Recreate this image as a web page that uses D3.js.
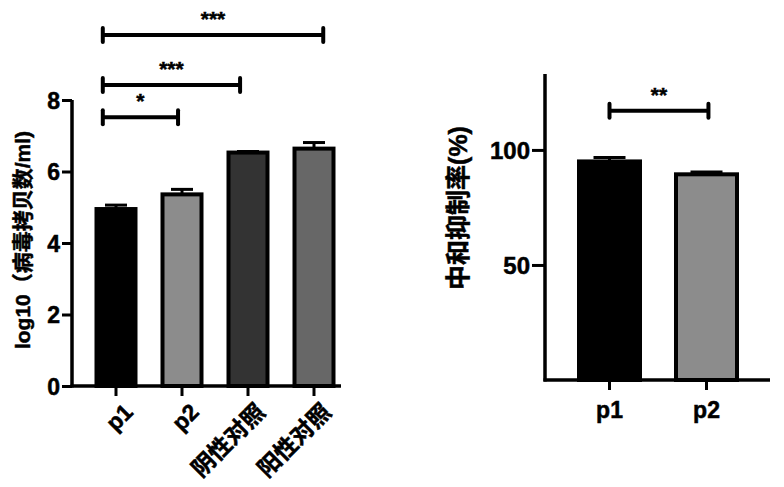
<!DOCTYPE html>
<html>
<head>
<meta charset="utf-8">
<script src="https://cdn.jsdelivr.net/npm/d3@7"></script>
<style>
  body { margin: 0; background: #fff; }
  svg text { font-family: "Liberation Sans", Arial, "Noto Sans CJK SC", sans-serif; font-weight: bold; fill: #000; stroke: #000; stroke-width: 0.5px; }
</style>
</head>
<body>
<svg id="chart"></svg>
<script>
// left panel
const leftCats = ["p1", "p2", "阴性对照", "阳性对照"];
const leftVals = [4.95, 5.36, 6.53, 6.64];
const leftErr = [0.11, 0.14, 0.03, 0.17];
const leftFills = ["#000000", "#8c8c8c", "#333333", "#676767"];
const leftTicks = [0, 2, 4, 6, 8];
// bracket ends in category-index units, y in data units
const leftBrackets = [
  {from: -0.2, to: 0.94, y: 7.52, label: "*"},
  {from: -0.2, to: 1.88, y: 8.42, label: "***"},
  {from: -0.2, to: 3.14, y: 9.82, label: "***"}
];

// right panel
const rightCats = ["p1", "p2"];
const rightVals = [95.0, 89.4];
const rightErr = [1.7, 1.0];
const rightFills = ["#000000", "#8c8c8c"];
const rightTicks = [50, 100];
const rightBrackets = [{from: 0, to: 1.02, y: 117, label: "**"}];

const svg = d3.select("#chart").attr("width", 784).attr("height", 487);

function panel(cfg) {
  const g = svg.append("g");
  const y = d3.scaleLinear().domain(cfg.yDomain).range([cfg.y0, cfg.y1]);
  const xi = d3.scaleLinear().domain([0, 1]).range([cfg.c0, cfg.c0 + cfg.step]);

  // bars
  g.selectAll(".bar").data(cfg.vals).join("rect")
    .attr("x", (d, i) => xi(i) - cfg.bw / 2 + 2)
    .attr("y", d => y(d))
    .attr("width", cfg.bw - 4)
    .attr("height", d => y(0) - y(d))
    .attr("fill", (d, i) => cfg.fills[i])
    .attr("stroke", "#000")
    .attr("stroke-width", 4);

  // error bars
  cfg.vals.forEach((v, i) => {
    const cx = xi(i), top = y(v + cfg.err[i]);
    g.append("line").attr("x1", cx).attr("x2", cx).attr("y1", y(v)).attr("y2", top)
      .attr("stroke", "#000").attr("stroke-width", 3);
    g.append("line").attr("x1", cx - cfg.capW).attr("x2", cx + cfg.capW).attr("y1", top).attr("y2", top)
      .attr("stroke", "#000").attr("stroke-width", 3);
  });

  // y axis
  const yAxis = d3.axisLeft(y).tickValues(cfg.ticks).tickSize(cfg.tickLen).tickPadding(2);
  const ya = g.append("g").attr("transform", `translate(${cfg.ax},0)`).call(yAxis);
  ya.select(".domain").attr("stroke-width", 3.5).attr("d", `M0,${cfg.y1}V${y(0) + 1.5}`);
  ya.selectAll(".tick line").attr("stroke-width", 3);
  ya.selectAll(".tick text").style("font-size", cfg.tickFont + "px").attr("dy", "0.36em");

  // x axis
  g.append("line").attr("x1", cfg.ax - 1.5).attr("x2", cfg.xEnd).attr("y1", y(0)).attr("y2", y(0))
    .attr("stroke", "#000").attr("stroke-width", 3.5);
  cfg.cats.forEach((c, i) => {
    g.append("line").attr("x1", xi(i)).attr("x2", xi(i)).attr("y1", y(0)).attr("y2", y(0) + 10)
      .attr("stroke", "#000").attr("stroke-width", 3);
    if (cfg.rotate) {
      g.append("text")
        .attr("transform", `translate(${xi(i) + 7},${y(0) + 16}) rotate(-45)`)
        .attr("text-anchor", "end").attr("dy", "0.7em")
        .style("font-size", "23px").text(c);
    } else {
      g.append("text").attr("x", xi(i)).attr("y", y(0) + 38)
        .attr("text-anchor", "middle").style("font-size", "23px").text(c);
    }
  });

  // brackets
  cfg.brackets.forEach(b => {
    const x1 = xi(b.from), x2 = xi(b.to), yy = y(b.y);
    g.append("line").attr("x1", x1).attr("x2", x2).attr("y1", yy).attr("y2", yy)
      .attr("stroke", "#000").attr("stroke-width", 4);
    [x1, x2].forEach(xx => g.append("line").attr("x1", xx).attr("x2", xx)
      .attr("y1", yy - 7).attr("y2", yy + 7).attr("stroke", "#000").attr("stroke-width", 4)
      .attr("stroke-linecap", "round"));
    g.append("text").attr("x", (x1 + x2) / 2).attr("y", yy - 9)
      .attr("text-anchor", "middle").style("font-size", "21px").text(b.label);
  });

  // y label
  g.append("text")
    .attr("transform", `translate(${cfg.labelX},${cfg.labelY}) rotate(-90)`)
    .attr("text-anchor", "middle").attr("dy", "0.35em")
    .style("font-size", cfg.labelFont + "px").text(cfg.label);
}

panel({
  cats: leftCats, vals: leftVals, err: leftErr, fills: leftFills, ticks: leftTicks,
  brackets: leftBrackets, yDomain: [0, 8], y0: 386, y1: 100,
  c0: 116, step: 66, bw: 43, capW: 11, ax: 72, xEnd: 341, tickFont: 23, tickLen: 10,
  rotate: true, label: "log10（病毒拷贝数/ml)", labelX: 23, labelY: 240, labelFont: 21
});

panel({
  cats: rightCats, vals: rightVals, err: rightErr, fills: rightFills, ticks: rightTicks,
  brackets: rightBrackets, yDomain: [0, 133], y0: 380, y1: 74,
  c0: 609.5, step: 97, bw: 65, capW: 16, ax: 545, xEnd: 770, tickFont: 24, tickLen: 13,
  rotate: false, label: "中和抑制率(%)", labelX: 458, labelY: 208, labelFont: 25
});
</script>
</body>
</html>
